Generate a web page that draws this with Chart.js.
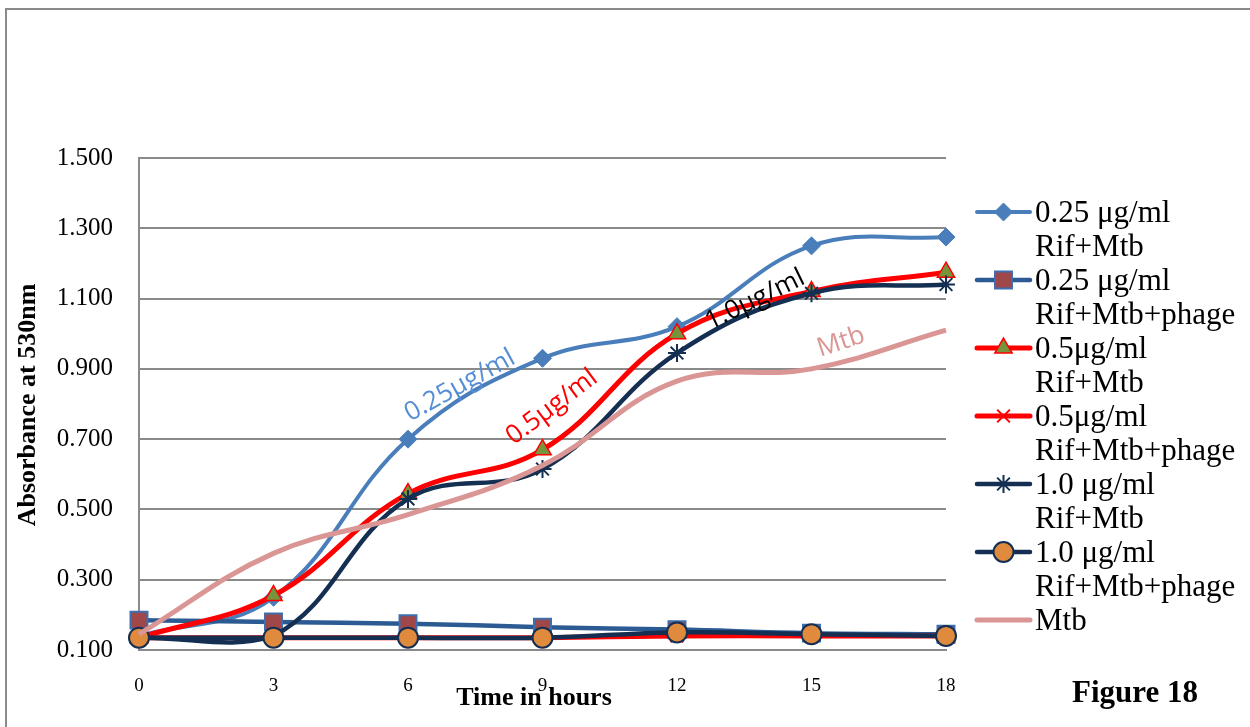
<!DOCTYPE html>
<html><head><meta charset="utf-8">
<script src="https://cdn.jsdelivr.net/npm/chart.js@4.4.1/dist/chart.umd.min.js"></script>
<style>html,body{margin:0;padding:0;background:#fff;overflow:hidden}#wrap{width:1250px;height:727px;position:relative}</style>
</head><body><div id="wrap"><canvas id="c" width="1250" height="727"></canvas></div>
<script>
// ---- data ----
const hours = [0, 3, 6, 9, 12, 15, 18];
const yTickValues = [0.1, 0.3, 0.5, 0.7, 0.9, 1.1, 1.3, 1.5];
const seriesLabels = [
  "0.25 μg/ml\nRif+Mtb",
  "0.25 μg/ml\nRif+Mtb+phage",
  "0.5μg/ml\nRif+Mtb",
  "0.5μg/ml\nRif+Mtb+phage",
  "1.0 μg/ml\nRif+Mtb",
  "1.0 μg/ml\nRif+Mtb+phage",
  "Mtb"
];
const rif025 = [0.14, 0.25, 0.70, 0.93, 1.02, 1.25, 1.275];
const rif025Phage = [0.185, 0.18, 0.175, 0.165, 0.158, 0.148, 0.145];
const rif05 = [0.135, 0.255, 0.545, 0.67, 1.0, 1.12, 1.175];
const rif05Phage = [0.135, 0.135, 0.135, 0.135, 0.14, 0.14, 0.14];
const rif10 = [0.135, 0.14, 0.53, 0.615, 0.945, 1.115, 1.14];
const rif10Phage = [0.135, 0.135, 0.135, 0.135, 0.15, 0.145, 0.14];
const mtbOnly = [0.145, 0.375, 0.485, 0.625, 0.865, 0.9, 1.01];
const curveNotes = ["0.25μg/ml", "0.5μg/ml", "1.0μg/ml", "Mtb"];
const curveNoteX = [7.16, 9.21, 13.74, 15.66];
const curveNoteY = [0.852, 0.791, 1.096, 0.976];

// ---- styles ----
const serif = '"Liberation Serif","Times New Roman",serif';
const styles = [
  {line:'#4a7ebb', w:4,   ps:'rectRot', r:9,  fill:'#4a7ebb', border:'#4a7ebb', bw:1},
  {line:'#2c5a92', w:4.5, ps:'rect',    r:12, fill:'#a0474a', border:'#3d6fae', bw:2},
  {line:'#ff0000', w:5,   ps:'triangle',r:10, fill:'#77933c', border:'#ff0000', bw:1.5},
  {line:'#ff0000', w:5,   ps:'crossRot',r:9,  fill:'#ff0000', border:'#ff0000', bw:2},
  {line:'#142f52', w:4.5, ps:'star',    r:9,  fill:'#142f52', border:'#142f52', bw:2},
  {line:'#142f52', w:4.5, ps:'circle',  r:10, fill:'#e08a3e', border:'#142f52', bw:2},
  {line:'#d99694', w:5,   ps:'circle',  r:0,  fill:'#d99694', border:'#d99694', bw:0}
];
const noteStyle = [
  {color:'#558ed5', rot:-29},
  {color:'#ff0000', rot:-37},
  {color:'#000000', rot:-26},
  {color:'#d99694', rot:-18}
];
const values = [rif025, rif025Phage, rif05, rif05Phage, rif10, rif10Phage, mtbOnly];

const datasets = values.map((arr, i) => ({
  label: seriesLabels[i],
  data: hours.map((h, k) => ({x: h, y: arr[k]})),
  borderColor: styles[i].line,
  borderWidth: styles[i].w,
  backgroundColor: styles[i].fill,
  pointStyle: styles[i].ps,
  pointRadius: styles[i].r,
  pointHoverRadius: styles[i].r,
  pointBackgroundColor: styles[i].fill,
  pointBorderColor: styles[i].border,
  pointBorderWidth: styles[i].bw,
  tension: 0.4,
  fill: false,
  clip: false,
  order: values.length - i
}));

const decor = {
  id: 'decor',
  beforeDraw(chart) {
    const ctx = chart.ctx;
    ctx.save();
    ctx.fillStyle = '#fff';
    ctx.fillRect(0, 0, chart.width, chart.height);
    ctx.strokeStyle = '#8a8a8a';
    ctx.lineWidth = 2;
    ctx.strokeRect(6, 9, 1400, 900);
    ctx.restore();
  },
  afterDatasetsDraw(chart) {
    const ctx = chart.ctx;
    const xs = chart.scales.x, ys = chart.scales.y;
    ctx.save();
    curveNotes.forEach((t, i) => {
      ctx.save();
      ctx.translate(xs.getPixelForValue(curveNoteX[i]), ys.getPixelForValue(curveNoteY[i]));
      ctx.rotate(noteStyle[i].rot * Math.PI / 180);
      ctx.font = '26px "Open Sans", "Liberation Sans", sans-serif';
      ctx.fillStyle = noteStyle[i].color;
      ctx.textAlign = 'center';
      ctx.textBaseline = 'middle';
      ctx.fillText(t, 0, 0);
      ctx.restore();
    });
    ctx.restore();
  },
  afterDraw(chart) {
    const ctx = chart.ctx;
    ctx.save();
    ctx.fillStyle = '#000';
    ctx.font = 'bold 26px ' + serif;
    ctx.textAlign = 'center';
    ctx.textBaseline = 'alphabetic';
    ctx.fillText('Time in hours', 534, 705);
    ctx.save();
    ctx.translate(35, 405);
    ctx.rotate(-Math.PI / 2);
    ctx.fillText('Absorbance at 530nm', 0, 0);
    ctx.restore();
    ctx.font = 'bold 31px ' + serif;
    ctx.textAlign = 'left';
    ctx.fillText('Figure 18', 1072, 702);
    // legend
    chart.data.datasets.forEach((ds, i) => {
      const base = 222 + i * 68;
      const yc = base - 10;
      ctx.strokeStyle = ds.borderColor;
      ctx.lineWidth = ds.borderWidth;
      ctx.lineCap = 'round';
      ctx.beginPath();
      ctx.moveTo(977, yc);
      ctx.lineTo(1030, yc);
      ctx.stroke();
      ctx.lineCap = 'butt';
      if (ds.pointRadius > 0) {
        ctx.fillStyle = ds.pointBackgroundColor;
        ctx.strokeStyle = ds.pointBorderColor;
        ctx.lineWidth = ds.pointBorderWidth;
        Chart.helpers.drawPoint(ctx, {pointStyle: ds.pointStyle, radius: ds.pointRadius, borderWidth: ds.pointBorderWidth, rotation: 0}, 1003.5, yc);
      }
      ctx.fillStyle = '#000';
      ctx.font = '31px ' + serif;
      ctx.textAlign = 'left';
      ds.label.split('\n').forEach((ln, k) => ctx.fillText(ln, 1035, base + k * 34));
    });
    ctx.restore();
  }
};

new Chart(document.getElementById('c'), {
  type: 'line',
  data: {datasets},
  options: {
    responsive: false,
    animation: false,
    events: [],
    layout: {padding: {left: 0, top: 158, right: 304, bottom: 0}},
    plugins: {legend: {display: false}, tooltip: {enabled: false}, title: {display: false}},
    scales: {
      x: {
        type: 'linear', min: 0, max: 18,
        afterBuildTicks: (a) => { a.ticks = hours.map(v => ({value: v})); },
        afterFit: (a) => { a.height = 77; },
        grid: {display: false, drawTicks: false},
        border: {display: true, color: '#8a8a8a', width: 2},
        ticks: {color: '#000', padding: 25, font: {family: serif, size: 19}, maxRotation: 0, autoSkip: false}
      },
      y: {
        type: 'linear', min: 0.1, max: 1.5,
        afterBuildTicks: (a) => { a.ticks = yTickValues.map(v => ({value: v})); },
        afterFit: (a) => { a.width = 139; },
        grid: {color: '#8a8a8a', lineWidth: 2, drawTicks: false},
        border: {display: true, color: '#8a8a8a', width: 2},
        ticks: {color: '#000', padding: 26, font: {family: serif, size: 25}, callback: (v) => Number(v).toFixed(3)}
      }
    }
  },
  plugins: [decor]
});
</script></body></html>
